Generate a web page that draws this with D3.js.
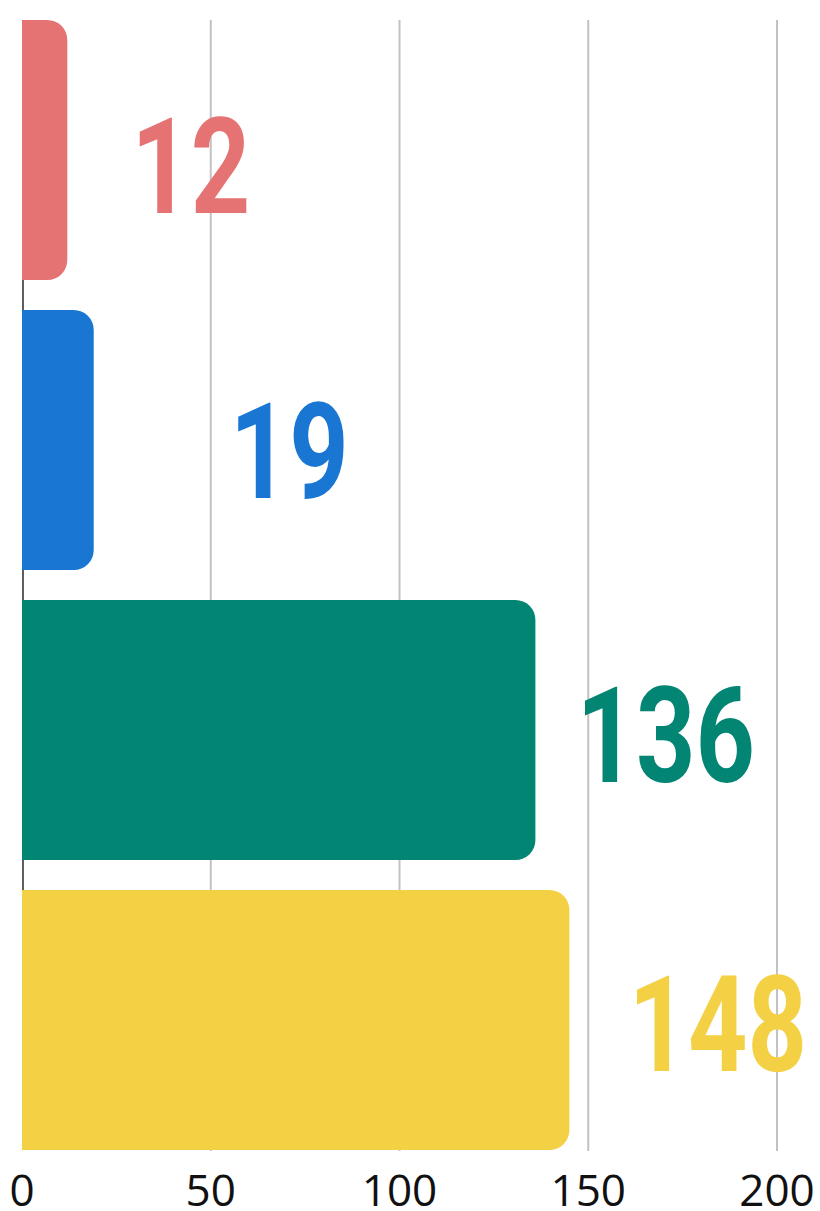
<!DOCTYPE html>
<html>
<head>
<meta charset="utf-8">
<script src="https://cdn.jsdelivr.net/npm/d3@7"></script>
<style>
  html, body { margin: 0; padding: 0; background: #ffffff; }
  svg { display: block; }
</style>
</head>
<body>
<svg id="chart" width="820" height="1211"></svg>
<script>
// ---- data ----
const categories = ["A", "B", "C", "D"];
const barValues = [12, 19, 136, 145];
const valueLabels = ["12", "19", "136", "148"];
const barColors = ["#E57373", "#1976D2", "#038573", "#F4D144"];
const tickValues = [0, 50, 100, 150, 200];

// ---- layout (styling only) ----
const labelGap = [64, 136, 41, 59];      // px from bar end to label start
const labelDrop = [63, 58, 52, 51];      // baseline offset from band centre
const labelSqueeze = 0.78;               // horizontal condensing of label font

const svg = d3.select("#chart");
const x = d3.scaleLinear().domain([0, 200]).range([22, 777]);
const y = d3.scaleBand().domain(categories).range([20, 1150])
  .paddingInner(30 / 290).paddingOuter(0);

// grid lines
svg.append("g").selectAll("line")
  .data(tickValues.filter(d => d > 0))
  .join("line")
  .attr("x1", d => x(d)).attr("x2", d => x(d))
  .attr("y1", 20).attr("y2", 1151)
  .attr("stroke", "#c2c2c2").attr("stroke-width", 2);

// left axis line
svg.append("line")
  .attr("x1", x(0) + 1).attr("x2", x(0) + 1)
  .attr("y1", 20).attr("y2", 1150)
  .attr("stroke", "#5f5f5f").attr("stroke-width", 2);

// bars with rounded right corners
function barPath(x0, x1, y0, h, r) {
  const rr = Math.min(r, (x1 - x0), h / 2);
  return `M${x0},${y0}H${x1 - rr}A${rr},${rr} 0 0 1 ${x1},${y0 + rr}` +
         `V${y0 + h - rr}A${rr},${rr} 0 0 1 ${x1 - rr},${y0 + h}H${x0}Z`;
}
svg.append("g").selectAll("path")
  .data(categories)
  .join("path")
  .attr("d", (c, i) => barPath(x(0), x(barValues[i]), y(c), y.bandwidth(), 20))
  .attr("fill", (c, i) => barColors[i]);

// value labels
svg.append("g").selectAll("text")
  .data(categories)
  .join("text")
  .attr("transform", (c, i) =>
    `translate(${x(barValues[i]) + labelGap[i]},${y(c) + y.bandwidth() / 2 + labelDrop[i]}) scale(${labelSqueeze},1)`)
  .attr("fill", (c, i) => barColors[i])
  .attr("font-family", "Roboto, 'Liberation Sans', sans-serif")
  .attr("font-weight", "bold")
  .attr("font-size", 133)
  .text((c, i) => valueLabels[i]);

// x axis tick labels
svg.append("g").selectAll("text")
  .data(tickValues)
  .join("text")
  .attr("x", d => x(d))
  .attr("y", 1206)
  .attr("text-anchor", "middle")
  .attr("font-family", "'Open Sans', 'Noto Sans', sans-serif")
  .attr("font-size", 44)
  .attr("fill", "#111")
  .text(d => d);
</script>
</body>
</html>
